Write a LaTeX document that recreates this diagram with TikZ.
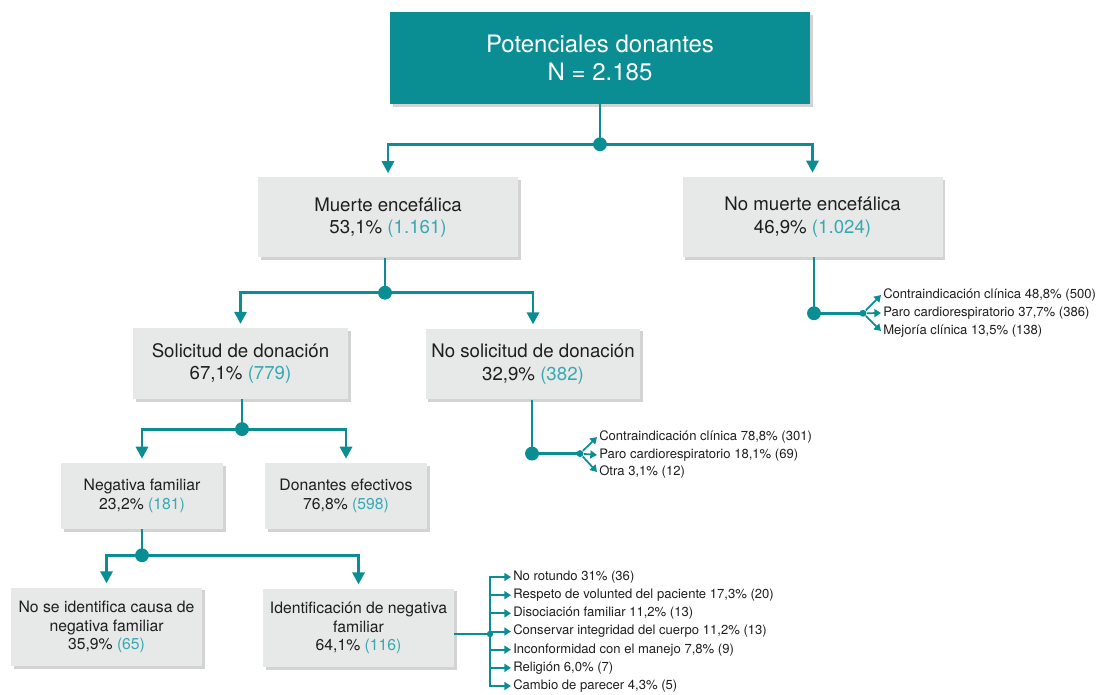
\documentclass[tikz,border=0pt]{standalone}
\usepackage{fontspec}
\setmainfont{TeX Gyre Heros}
\usetikzlibrary{arrows.meta,positioning,shadows,calc}

\definecolor{donteal}{HTML}{0A8E94}
\definecolor{numteal}{HTML}{38A9B1}
\definecolor{boxgray}{HTML}{E7E8E8}
\definecolor{txtblack}{HTML}{1E1E1E}

\newcommand{\cnt}[1]{\textcolor{numteal}{(#1)}}

\tikzset{
  box/.style={fill=boxgray, text=txtblack, align=center, inner sep=0pt,
    drop shadow={shadow xshift=2pt, shadow yshift=-2pt, opacity=.35}},
  midbox/.style={box, minimum width=195pt, minimum height=60pt, font=\fontsize{14}{17}\selectfont},
  solbox/.style={box, minimum width=161pt, minimum height=53pt, font=\fontsize{14}{17}\selectfont},
  lowbox/.style={box, minimum width=121.5pt, minimum height=49.5pt, font=\fontsize{11.8}{13.7}\selectfont},
  endbox/.style={box, minimum width=143pt, minimum height=59pt, font=\fontsize{11.8}{13.7}\selectfont},
  conn/.style={donteal, line width=2.2pt},
  arr/.style={conn, -{Triangle[width=9pt,length=9pt]}, shorten >=3pt},
  sarr/.style={donteal, line width=1.3pt, -{Triangle[width=6pt,length=5pt]}},
  item/.style={anchor=west, inner sep=1.5pt, text=txtblack, font=\fontsize{9.8}{11}\selectfont},
}

\begin{document}
\begin{tikzpicture}[x=0.75pt, y=-0.75pt]
  \useasboundingbox (0,0) rectangle (1103,695);

  % boxes
  \node[box, fill=donteal, text=white, minimum width=315pt, minimum height=69pt,
        font=\fontsize{18}{21}\selectfont] (pot) at (600,58) {Potenciales donantes\\N = 2.185};
  \node[midbox] (me) at (388,217.5) {Muerte encefálica\\53,1\% \cnt{1.161}};
  \node[midbox] (nme) at (812.5,217) {No muerte encefálica\\46,9\% \cnt{1.024}};
  \node[solbox] (sol) at (240.5,363.5) {Solicitud de donación\\67,1\% \cnt{779}};
  \node[solbox] (nsol) at (533,364) {No solicitud de donación\\32,9\% \cnt{382}};
  \node[lowbox] (negf) at (142,496) {Negativa familiar\\23,2\% \cnt{181}};
  \node[lowbox] (don) at (346,496) {Donantes efectivos\\76,8\% \cnt{598}};
  \node[endbox] (nocausa) at (106.5,627) {No se identifica causa de\\negativa familiar\\35,9\% \cnt{65}};
  \node[endbox] (ident) at (358.5,628) {Identificación de negativa\\familiar\\64,1\% \cnt{116}};

  % branch points
  \coordinate (d1) at ($(pot.south)+(0,40)$);
  \coordinate (d2) at ($(me.south)+(-3,35)$);
  \coordinate (d3) at ($(sol.south)+(1.5,30)$);
  \coordinate (d4) at ($(negf.south)+(0,26)$);

  \draw[conn] (pot.south) -- (d1);
  \draw[arr] (d1) -| (me.north);
  \draw[arr] (d1) -| (nme.north);
  \draw[conn] (d2 |- me.south) -- (d2);
  \draw[arr] (d2) -| (sol.north);
  \draw[arr] (d2) -| (nsol.north);
  \draw[conn] (d3 |- sol.south) -- (d3);
  \draw[arr] (d3) -| (negf.north);
  \draw[arr] (d3) -| (don.north);
  \draw[conn] (negf.south) -- (d4);
  \draw[arr] (d4) -| (nocausa.north);
  \draw[arr] (d4) -| (ident.north);
  \foreach \d in {d1,d2,d3,d4}
    \fill[donteal] (\d) circle (5.2pt);

  % no muerte encefalica
  \coordinate (e1) at ($(nme.south)+(1.5,56)$);
  \coordinate (e2) at ($(e1)+(49,0)$);
  \node[item] (nme1) at (881,295) {Contraindicación clínica 48,8\% (500)};
  \node[item] (nme2) at (881,313) {Paro cardiorespiratorio 37,7\% (386)};
  \node[item] (nme3) at (881,331) {Mejoría clínica 13,5\% (138)};
  \draw[conn] (e1 |- nme.south) -- (e1) -- (e2);
  \fill[donteal] (e1) circle (5.2pt);
  \fill[donteal] (e2) circle (2.6pt);
  \foreach \i in {1,2,3}
    \draw[sarr, shorten <=3pt] (e2) -- (nme\i.west);

  % no solicitud
  \coordinate (f1) at ($(nsol.south)+(-1,54)$);
  \coordinate (f2) at ($(f1)+(48,0)$);
  \node[item] (nsol1) at (597,437) {Contraindicación clínica 78,8\% (301)};
  \node[item] (nsol2) at (597,455) {Paro cardiorespiratorio 18,1\% (69)};
  \node[item] (nsol3) at (597,472) {Otra 3,1\% (12)};
  \draw[conn] (f1 |- nsol.south) -- (f1) -- (f2);
  \fill[donteal] (f1) circle (5.2pt);
  \fill[donteal] (f2) circle (2.6pt);
  \foreach \i in {1,2,3}
    \draw[sarr, shorten <=3pt] (f2) -- (nsol\i.west);

  % causas de negativa
  \coordinate (g1) at (490,634);
  \foreach \t [count=\i] in {{No rotundo 31\% (36)},
      {Respeto de volunted del paciente 17,3\% (20)},
      {Disociación familiar 11,2\% (13)},
      {Conservar integridad del cuerpo 11,2\% (13)},
      {Inconformidad con el manejo 7,8\% (9)},
      {Religión 6,0\% (7)},
      {Cambio de parecer 4,3\% (5)}}
    \node[item] (cau\i) at (511,{577+18.17*(\i-1)}) {\t};
  \draw[donteal, line width=1.5pt] (ident.east |- g1) -- (g1);
  \foreach \i in {1,...,7}
    \draw[sarr, line width=1.5pt] (g1) |- (cau\i.west);
  \fill[donteal] (g1) circle (2.4pt);
\end{tikzpicture}
\end{document}
